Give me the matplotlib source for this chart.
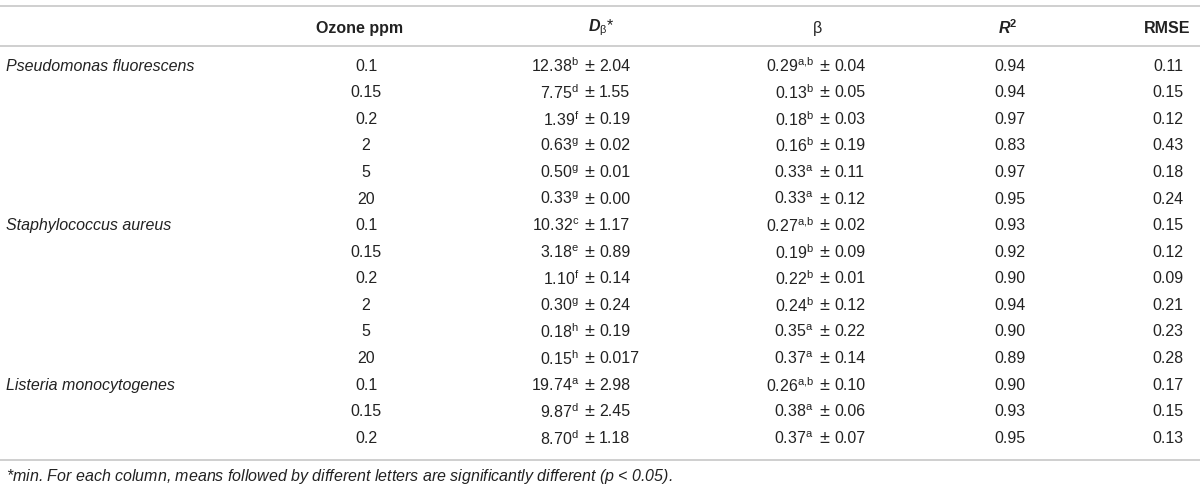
import matplotlib
matplotlib.use("Agg")
import matplotlib.pyplot as plt

plt.rcParams['font.family'] = ['Liberation Sans', 'DejaVu Sans']
plt.rcParams['mathtext.fontset'] = 'custom'
plt.rcParams['mathtext.rm'] = 'Liberation Sans'
plt.rcParams['mathtext.it'] = 'Liberation Sans:italic'
plt.rcParams['mathtext.bf'] = 'Liberation Sans:bold'
plt.rcParams['mathtext.bfit'] = 'Liberation Sans:italic:bold'

# table data
species = ['Pseudomonas fluorescens', 'Staphylococcus aureus', 'Listeria monocytogenes']
ozone = ['0.1', '0.15', '0.2', '2', '5', '20',
         '0.1', '0.15', '0.2', '2', '5', '20',
         '0.1', '0.15', '0.2']
d_beta = ['12.38', '7.75', '1.39', '0.63', '0.50', '0.33',
          '10.32', '3.18', '1.10', '0.30', '0.18', '0.15',
          '19.74', '9.87', '8.70']
d_beta_let = ['b', 'd', 'f', 'g', 'g', 'g',
              'c', 'e', 'f', 'g', 'h', 'h',
              'a', 'd', 'd']
d_beta_sd = ['2.04', '1.55', '0.19', '0.02', '0.01', '0.00',
             '1.17', '0.89', '0.14', '0.24', '0.19', '0.017',
             '2.98', '2.45', '1.18']
beta = ['0.29', '0.13', '0.18', '0.16', '0.33', '0.33',
        '0.27', '0.19', '0.22', '0.24', '0.35', '0.37',
        '0.26', '0.38', '0.37']
beta_let = ['a,b', 'b', 'b', 'b', 'a', 'a',
            'a,b', 'b', 'b', 'b', 'a', 'a',
            'a,b', 'a', 'a']
beta_sd = ['0.04', '0.05', '0.03', '0.19', '0.11', '0.12',
           '0.02', '0.09', '0.01', '0.12', '0.22', '0.14',
           '0.10', '0.06', '0.07']
r2 = ['0.94', '0.94', '0.97', '0.83', '0.97', '0.95',
      '0.93', '0.92', '0.90', '0.94', '0.90', '0.89',
      '0.90', '0.93', '0.95']
rmse = ['0.11', '0.15', '0.12', '0.43', '0.18', '0.24',
        '0.15', '0.12', '0.09', '0.21', '0.23', '0.28',
        '0.17', '0.15', '0.13']
footnote = '*min. For each column, means followed by different letters are significantly different ($\\mathit{p}$ < 0.05).'

W, H = 1200, 491
fig = plt.figure(figsize=(W / 100, H / 100), dpi=100)
ax = fig.add_axes([0, 0, 1, 1])
ax.set_xlim(0, W)
ax.set_ylim(H, 0)
ax.axis('off')

txt = '#222222'
line_c = '#cccccc'
fs = 11.5

# horizontal rules
for y in [6, 46, 460]:
    ax.plot([0, W], [y, y], color=line_c, lw=1.3)

# header
hy = 28
ax.text(360, hy, 'Ozone ppm', ha='center', va='center', fontsize=fs, fontweight='bold', color=txt)
ax.text(601, hy, '$\\mathbfit{D}_{\\mathrm{β}}$*', ha='center', va='center', fontsize=fs, color=txt)
ax.text(817, hy, 'β', ha='center', va='center', fontsize=fs, color=txt)
ax.text(1008, hy, '$\\mathbfit{R}^{\\mathbf{2}}$', ha='center', va='center', fontsize=fs, color=txt)
ax.text(1167, hy, 'RMSE', ha='center', va='center', fontsize=fs, fontweight='bold', color=txt)

y0, dy = 66, 26.6
for g, name in enumerate(species):
    ax.text(6, y0 + g * 6 * dy, name, ha='left', va='center', fontsize=fs, style='italic', color=txt)

def pm_cell(x, y, val, let, sd):
    let = let.replace(',', '{,}')
    ax.text(x - 10, y, val + '$^{\\mathrm{' + let + '}}$', ha='right', va='center', fontsize=fs, color=txt)
    ax.text(x, y, '±', ha='center', va='center', fontsize=fs + 1.5, color=txt)
    ax.text(x + 10, y, sd, ha='left', va='center', fontsize=fs, color=txt)

for i in range(len(ozone)):
    y = y0 + i * dy
    ax.text(366, y, ozone[i], ha='center', va='center', fontsize=fs, color=txt)
    pm_cell(589, y, d_beta[i], d_beta_let[i], d_beta_sd[i])
    pm_cell(824, y, beta[i], beta_let[i], beta_sd[i])
    ax.text(1010, y, r2[i], ha='center', va='center', fontsize=fs, color=txt)
    ax.text(1168, y, rmse[i], ha='center', va='center', fontsize=fs, color=txt)

ax.text(6, 477, footnote, ha='left', va='center', fontsize=fs, style='italic', color=txt)

fig.savefig('out.png', dpi=100)
